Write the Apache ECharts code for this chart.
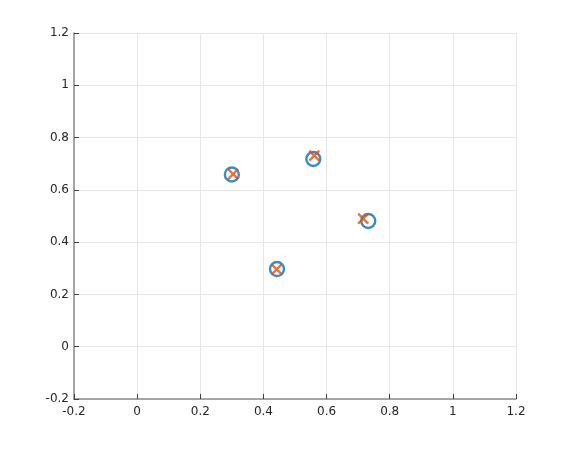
<!DOCTYPE html>
<html>
<head>
<meta charset="utf-8">
<script src="https://cdn.jsdelivr.net/npm/echarts@6/dist/echarts.min.js"></script>
<style>
  html, body { margin: 0; padding: 0; background: #fff; }
  #chart { width: 570px; height: 450px; }
</style>
</head>
<body>
<div id="chart"></div>
<script>
// circles (true positions) and crosses (estimates)
const circleX = [0.300, 0.558, 0.732, 0.443];
const circleY = [0.659, 0.718, 0.481, 0.297];
const crossX = [0.304, 0.561, 0.716, 0.442];
const crossY = [0.660, 0.731, 0.490, 0.296];

const axisMin = -0.2;
const axisMax = 1.2;
const axisStep = 0.2;

const circlePts = circleX.map((x, i) => [x, circleY[i]]);
const crossPts = crossX.map((x, i) => [x, crossY[i]]);

const chart = echarts.init(document.getElementById('chart'));

const axisCommon = {
    type: 'value',
    min: axisMin,
    max: axisMax,
    interval: axisStep,
    axisLine: { show: true, onZero: false, lineStyle: { color: '#8c8c8c', width: 1.5 } },
    axisTick: { show: true, inside: true, length: 5, lineStyle: { color: '#404040' } },
    axisLabel: {
        color: '#262626',
        fontFamily: 'DejaVu Sans',
        fontSize: 12,
        formatter: v => String(Math.round(v * 10) / 10)
    },
    splitLine: { show: true, lineStyle: { color: '#e6e6e6', width: 1 } }
};

chart.setOption({
    animation: false,
    grid: { left: 74, right: 54, top: 33, bottom: 51 },
    xAxis: Object.assign({}, axisCommon, {
        axisLabel: Object.assign({}, axisCommon.axisLabel, { margin: 7 })
    }),
    yAxis: Object.assign({}, axisCommon, {
        axisLabel: Object.assign({}, axisCommon.axisLabel, { margin: 5 })
    }),
    series: [
        {
            type: 'scatter',
            data: circlePts,
            symbol: 'circle',
            symbolSize: 14,
            itemStyle: { color: 'rgba(0,0,0,0)', borderColor: '#0072BD', borderWidth: 2.4 },
            z: 2
        },
        {
            type: 'scatter',
            data: crossPts,
            symbol: 'path://M0,0L10,10M10,0L0,10',
            symbolSize: 10,
            itemStyle: { color: 'rgba(0,0,0,0)', borderColor: '#D95319', borderWidth: 2.4 },
            z: 3
        }
    ]
});
</script>
</body>
</html>
